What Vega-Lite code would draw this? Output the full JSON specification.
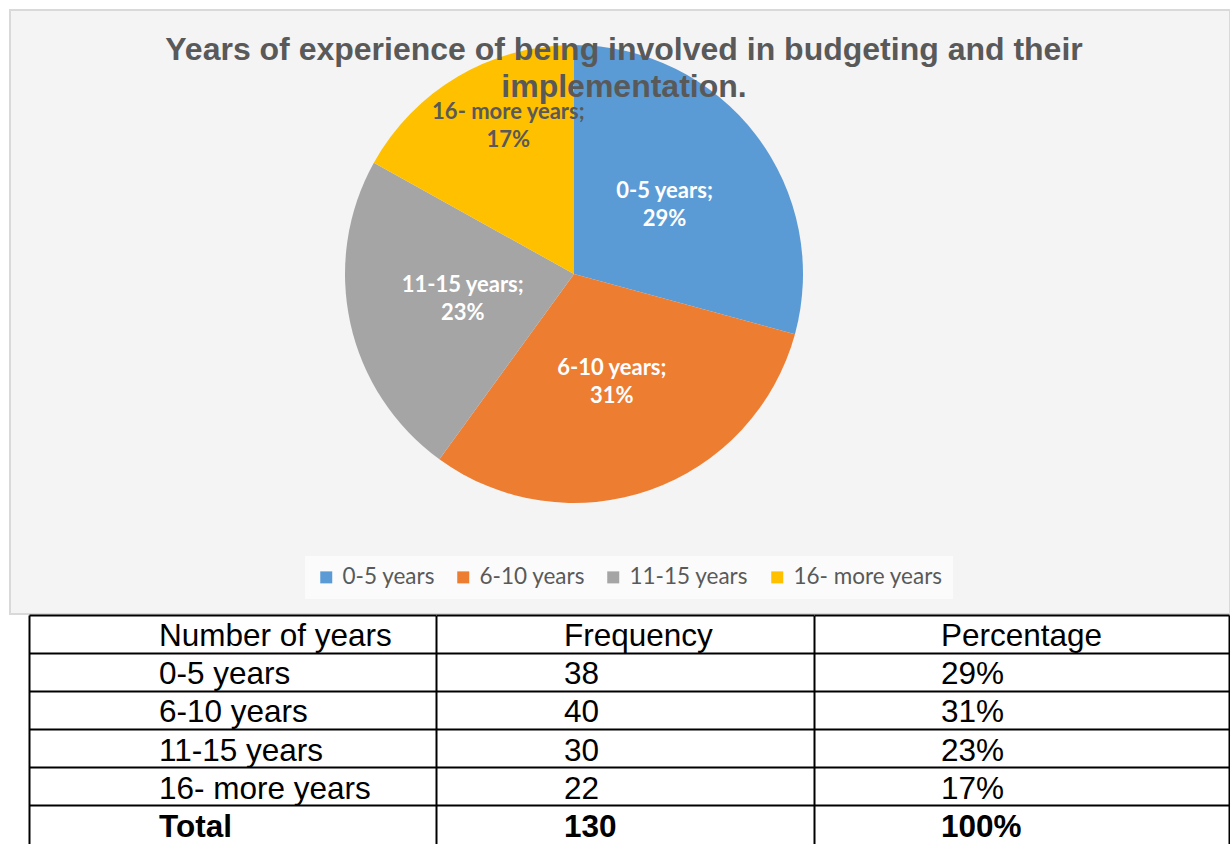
{
  "$schema": "https://vega.github.io/schema/vega-lite/v6.json",
  "padding": {"left": 9, "top": 9, "right": 0, "bottom": 0},
  "background": "white",
  "bounds": "flush",
  "spacing": 1,
  "datasets": {
    "pie": [
      {"years": "0-5 years", "freq": 38, "pct": 29},
      {"years": "6-10 years", "freq": 40, "pct": 31},
      {"years": "11-15 years", "freq": 30, "pct": 23},
      {"years": "16- more years", "freq": 22, "pct": 17}
    ],
    "table": [
      {"years": "Number of years", "freq": "Frequency", "pct": "Percentage"},
      {"years": "0-5 years", "freq": "38", "pct": "29%"},
      {"years": "6-10 years", "freq": "40", "pct": "31%"},
      {"years": "11-15 years", "freq": "30", "pct": "23%"},
      {"years": "16- more years", "freq": "22", "pct": "17%"},
      {"years": "Total", "freq": "130", "pct": "100%"}
    ]
  },
  "vconcat": [
    {
      "width": 1220,
      "height": 604,
      "view": {"fill": "#f4f4f4", "stroke": "#d9d9d9", "strokeWidth": 2},
      "title": {
        "text": ["Years of experience of being involved in budgeting and their", "implementation."],
        "font": "Liberation Sans",
        "fontSize": 32,
        "fontWeight": "bold",
        "color": "#595959",
        "anchor": "middle",
        "frame": "group",
        "baseline": "top",
        "offset": -94,
        "lineHeight": 37,
        "dx": 4
      },
      "data": {"name": "pie"},
      "transform": [{"window": [{"op": "row_number", "as": "rank"}]}],
      "encoding": {
        "theta": {"field": "freq", "type": "quantitative", "stack": true},
        "order": {"field": "rank", "type": "quantitative"}
      },
      "layer": [
        {
          "mark": {"type": "arc", "outerRadius": 229, "x": 564, "y": 264},
          "encoding": {
            "color": {
              "field": "years",
              "type": "nominal",
              "scale": {
                "domain": ["0-5 years", "6-10 years", "11-15 years", "16- more years"],
                "range": ["#5B9BD5", "#ED7D31", "#A5A5A5", "#FFC000"]
              },
              "legend": {
                "title": null,
                "orient": "none",
                "direction": "horizontal",
                "legendX": 295,
                "legendY": 546,
                "padding": 10,
                "fillColor": "#fbfbfb",
                "symbolType": "square",
                "symbolSize": 144,
                "symbolStrokeWidth": 0,
                "labelFont": "Lato",
                "labelFontSize": 22.5,
                "labelColor": "#595959",
                "labelOffset": 5,
                "columnPadding": 17
              }
            }
          }
        },
        {
          "mark": {
            "type": "text",
            "x": 564,
            "y": 264,
            "radius": {"expr": "datum.years === '16- more years' ? 161 : 114"},
            "dx": {"expr": "datum.years === '16- more years' ? 16 : 0"},
            "dy": {"expr": "datum.years === '16- more years' ? -23 : -14"},
            "text": {"expr": "[datum.years + ';', datum.pct + '%']"},
            "font": "Lato",
            "fontWeight": "bold",
            "fontSize": 22,
            "lineHeight": 28,
            "align": "center",
            "baseline": "middle"
          },
          "encoding": {
            "color": {"condition": {"test": "datum.years === '16- more years'", "value": "#595959"}, "value": "white"}
          }
        }
      ]
    },
    {
      "bounds": "flush",
      "spacing": 0,
      "hconcat": [
        {
          "width": 19,
          "height": 229,
          "data": {"values": [{}]},
          "mark": {"type": "point", "opacity": 0},
          "view": {"stroke": null}
        },
        {
          "width": 407,
          "height": 229,
          "view": {"stroke": null, "fill": "white"},
          "data": {"name": "table"},
          "encoding": {
            "y": {
              "field": "years", "type": "nominal",
              "scale": {"type": "band", "domain": ["Number of years", "0-5 years", "6-10 years", "11-15 years", "16- more years", "Total"], "paddingInner": 0, "paddingOuter": 0},
              "axis": {"grid": true, "gridColor": "black", "gridWidth": 2, "bandPosition": 0, "labels": false, "ticks": false, "domain": true, "domainColor": "black", "domainWidth": 2, "title": null, "minExtent": 0}
            },
            "text": {"field": "years"}
          },
          "layer": [
            {"transform": [{"filter": "datum.years !== 'Total'"}], "mark": {"type": "text", "font": "Liberation Sans", "fontSize": 31.5, "color": "black", "align": "left", "baseline": "alphabetic", "dx": -73.5, "dy": 12}},
            {"transform": [{"filter": "datum.years === 'Total'"}], "mark": {"type": "text", "font": "Liberation Sans", "fontSize": 31.5, "fontWeight": "bold", "color": "black", "align": "left", "baseline": "alphabetic", "dx": -73.5, "dy": 12}}
          ]
        },
        {
          "width": 378,
          "height": 229,
          "view": {"stroke": null, "fill": "white"},
          "data": {"name": "table"},
          "encoding": {
            "y": {
              "field": "years", "type": "nominal",
              "scale": {"type": "band", "domain": ["Number of years", "0-5 years", "6-10 years", "11-15 years", "16- more years", "Total"], "paddingInner": 0, "paddingOuter": 0},
              "axis": {"grid": true, "gridColor": "black", "gridWidth": 2, "bandPosition": 0, "labels": false, "ticks": false, "domain": true, "domainColor": "black", "domainWidth": 2, "title": null, "minExtent": 0}
            },
            "text": {"field": "freq"}
          },
          "layer": [
            {"transform": [{"filter": "datum.years !== 'Total'"}], "mark": {"type": "text", "font": "Liberation Sans", "fontSize": 31.5, "color": "black", "align": "left", "baseline": "alphabetic", "dx": -61, "dy": 12}},
            {"transform": [{"filter": "datum.years === 'Total'"}], "mark": {"type": "text", "font": "Liberation Sans", "fontSize": 31.5, "fontWeight": "bold", "color": "black", "align": "left", "baseline": "alphabetic", "dx": -61, "dy": 12}}
          ]
        },
        {
          "width": 415,
          "height": 229,
          "view": {"stroke": null, "fill": "white"},
          "data": {"name": "table"},
          "encoding": {
            "y": {
              "field": "years", "type": "nominal",
              "scale": {"type": "band", "domain": ["Number of years", "0-5 years", "6-10 years", "11-15 years", "16- more years", "Total"], "paddingInner": 0, "paddingOuter": 0},
              "axis": {"grid": true, "gridColor": "black", "gridWidth": 2, "bandPosition": 0, "labels": false, "ticks": false, "domain": true, "domainColor": "black", "domainWidth": 2, "title": null, "minExtent": 0}
            },
            "text": {"field": "pct"}
          },
          "layer": [
            {"transform": [{"filter": "datum.years !== 'Total'"}], "mark": {"type": "text", "font": "Liberation Sans", "fontSize": 31.5, "color": "black", "align": "left", "baseline": "alphabetic", "dx": -80.5, "dy": 12}},
            {"transform": [{"filter": "datum.years === 'Total'"}], "mark": {"type": "text", "font": "Liberation Sans", "fontSize": 31.5, "fontWeight": "bold", "color": "black", "align": "left", "baseline": "alphabetic", "dx": -80.5, "dy": 12}}
          ]
        },
        {
          "width": 1,
          "height": 229,
          "view": {"stroke": null},
          "data": {"name": "table"},
          "mark": {"type": "point", "opacity": 0},
          "encoding": {
            "y": {
              "field": "years", "type": "nominal",
              "scale": {"type": "band", "domain": ["Number of years", "0-5 years", "6-10 years", "11-15 years", "16- more years", "Total"], "paddingInner": 0, "paddingOuter": 0},
              "axis": {"grid": false, "labels": false, "ticks": false, "domain": true, "domainColor": "black", "domainWidth": 2, "title": null, "minExtent": 0}
            }
          }
        }
      ]
    }
  ],
  "config": {"view": {"stroke": null}, "font": "Liberation Sans"}
}
